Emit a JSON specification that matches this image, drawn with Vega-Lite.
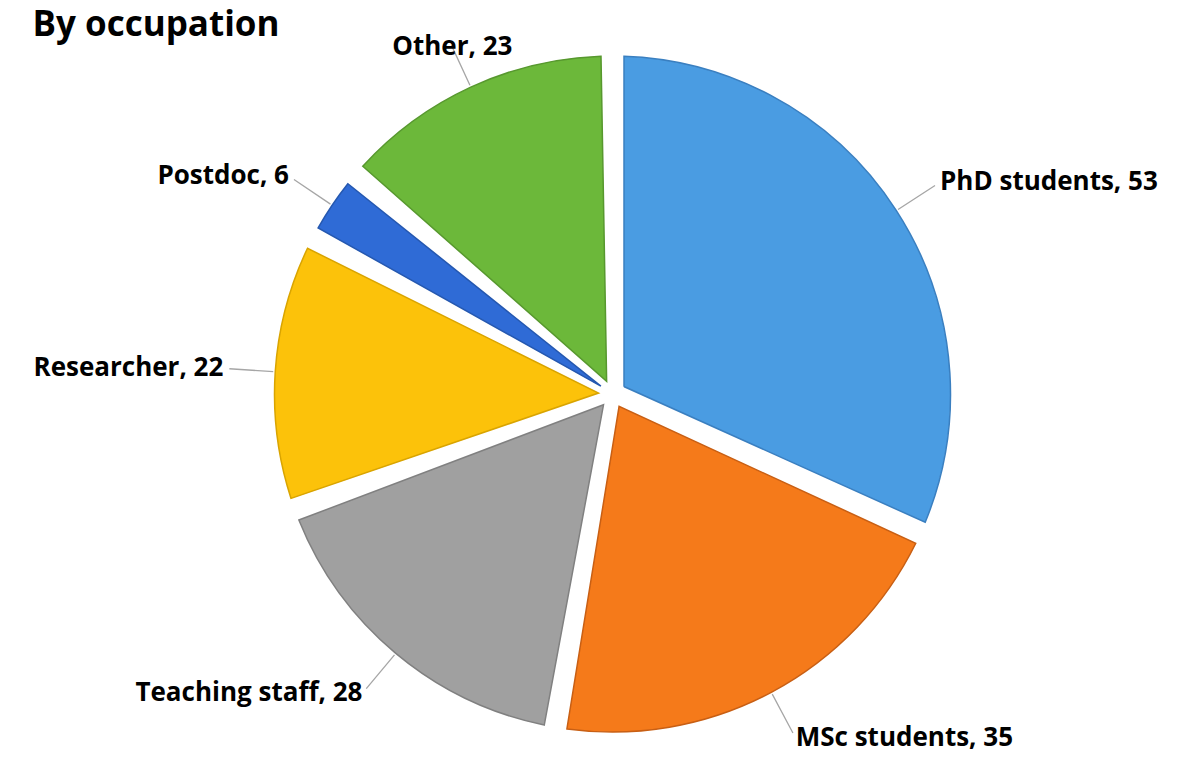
{
  "$schema": "https://vega.github.io/schema/vega-lite/v6.json",
  "width": 1182,
  "height": 761,
  "autosize": {"type": "fit", "contains": "padding"},
  "padding": {"left": 42, "right": 0, "top": 8, "bottom": 0},
  "background": "white",
  "title": {
    "text": "By occupation",
    "anchor": "start",
    "baseline": "top",
    "font": "Open Sans",
    "fontSize": 35,
    "fontWeight": "bold",
    "color": "#000000",
    "dx": -1,
    "dy": 16,
    "offset": 0
  },
  "data": {
    "values": [
      {"occupation": "PhD students", "count": 53, "order": 1},
      {"occupation": "MSc students", "count": 35, "order": 2},
      {"occupation": "Teaching staff", "count": 28, "order": 3},
      {"occupation": "Researcher", "count": 22, "order": 4},
      {"occupation": "Postdoc", "count": 6, "order": 5},
      {"occupation": "Other", "count": 23, "order": 6}
    ]
  },
  "transform": [
    {"stack": "count", "groupby": [], "sort": [{"field": "order"}], "as": ["t0", "t1"]},
    {"calculate": "(datum.t0 + datum.t1) / 2", "as": "tmid"},
    {"calculate": "datum.occupation + ', ' + datum.count", "as": "label"}
  ],
  "layer": [
    {
      "mark": {"type": "arc", "outerRadius": 338, "innerRadius": 14, "padAngle": 0.068, "strokeWidth": 1.5},
      "encoding": {
        "theta": {"field": "t0", "type": "quantitative", "scale": {"domain": [0, 167]}},
        "theta2": {"field": "t1"},
        "color": {
          "field": "occupation",
          "type": "nominal",
          "scale": {
            "domain": ["PhD students", "MSc students", "Teaching staff", "Researcher", "Postdoc", "Other"],
            "range": ["#4A9CE2", "#F57A1A", "#A0A0A0", "#FCC20A", "#2F6BD6", "#6CB83A"]
          },
          "legend": null
        },
        "stroke": {
          "field": "occupation",
          "type": "nominal",
          "scale": {
            "domain": ["PhD students", "MSc students", "Teaching staff", "Researcher", "Postdoc", "Other"],
            "range": ["#3A7FC0", "#C85F14", "#808080", "#D9A400", "#2558B0", "#57982E"]
          },
          "legend": null
        }
      }
    },
    {
      "mark": {"type": "arc", "outerRadius": 384, "innerRadius": 340, "padAngle": 3.1416, "filled": false, "stroke": "#A6A6A6", "strokeWidth": 1.3},
      "encoding": {
        "theta": {"field": "t0", "type": "quantitative"},
        "theta2": {"field": "t1"}
      }
    },
    {
      "transform": [{"filter": "datum.order <= 2"}],
      "mark": {"type": "text", "radius": 390, "align": "left", "baseline": "middle", "font": "Open Sans", "fontSize": 26, "fontWeight": "bold", "color": "#000000"},
      "encoding": {"theta": {"field": "tmid", "type": "quantitative"}, "text": {"field": "label"}}
    },
    {
      "transform": [{"filter": "datum.order >= 3 && datum.order <= 5"}],
      "mark": {"type": "text", "radius": 390, "align": "right", "baseline": "middle", "font": "Open Sans", "fontSize": 26, "fontWeight": "bold", "color": "#000000"},
      "encoding": {"theta": {"field": "tmid", "type": "quantitative"}, "text": {"field": "label"}}
    },
    {
      "transform": [{"filter": "datum.order == 6"}],
      "mark": {"type": "text", "radius": 382, "align": "center", "baseline": "middle", "font": "Open Sans", "fontSize": 26, "fontWeight": "bold", "color": "#000000"},
      "encoding": {"theta": {"field": "tmid", "type": "quantitative"}, "text": {"field": "label"}}
    }
  ],
  "config": {"view": {"stroke": null}}
}
